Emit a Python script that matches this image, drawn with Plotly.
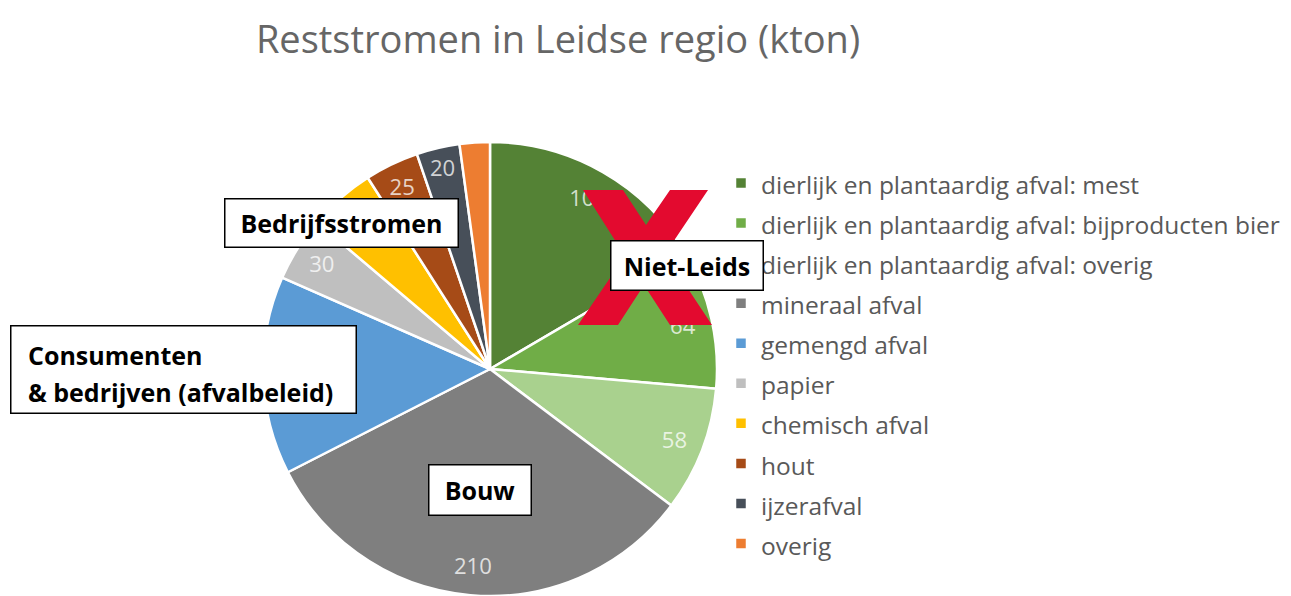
import plotly.graph_objects as go

# ---- data ----
categories = [
    "dierlijk en plantaardig afval: mest",
    "dierlijk en plantaardig afval: bijproducten bier",
    "dierlijk en plantaardig afval: overig",
    "mineraal afval",
    "gemengd afval",
    "papier",
    "chemisch afval",
    "hout",
    "ijzerafval",
    "overig",
]
values = [108, 64, 58, 210, 92, 30, 31, 25, 20, 14]
colors = ["#548235", "#70AD47", "#A9D18E", "#7F7F7F", "#5B9BD5",
          "#BFBFBF", "#FFC000", "#A64B17", "#474F59", "#ED7D31"]
# labels hidden where the reference covers them or shows none
text_pos = ["inside", "inside", "inside", "inside", "none",
            "inside", "none", "inside", "inside", "none"]

# page body has an 8px margin; the figure fills the rest of the window
OX, OY = 8, 8
W, H = 1291 - OX, 596 - OY


def px(x):
    return (x - OX) / W


def py(y):
    return 1 - (y - OY) / H


pie_domain = dict(x=[px(263), px(717)], y=[0, py(142)])

fig = go.Figure()
# main pie (colours + legend)
fig.add_trace(go.Pie(
    labels=[f"<span style='font-size:24.5px'>{c}</span>" for c in categories],
    values=values,
    sort=False,
    direction="clockwise",
    rotation=0,
    marker=dict(colors=colors, line=dict(color="white", width=2.5)),
    textinfo="none",
    domain=pie_domain,
    hoverinfo="label+value",
))
# transparent ring on top, only to place value labels near the rim
fig.add_trace(go.Pie(
    labels=categories,
    values=values,
    sort=False,
    direction="clockwise",
    rotation=0,
    hole=0.74,
    marker=dict(colors=["rgba(0,0,0,0)"] * len(values), line=dict(width=0)),
    texttemplate="%{value}",
    textposition=text_pos,
    insidetextorientation="horizontal",
    textfont=dict(family="Open Sans", size=23, color="rgba(255,255,255,0.75)"),
    domain=pie_domain,
    showlegend=False,
    hoverinfo="skip",
))

# red X (decoration)
xpts = [(583, 190), (623, 190), (646, 225), (670, 190), (708, 190), (665, 254),
        (712, 325), (670, 325), (644, 285), (618, 325), (578, 325), (625, 256)]
path = "M " + " L ".join(f"{px(x):.5f},{py(y):.5f}" for x, y in xpts) + " Z"

shapes = [dict(type="path", path=path, xref="paper", yref="paper",
               fillcolor="#E30A2F", line=dict(width=0), layer="above")]

box_font = dict(family="Open Sans", size=25, color="black", weight="bold")


def box(text, x0, y0, x1, y1, align="center"):
    bw = 1.5
    return dict(text=text, xref="paper", yref="paper",
                x=px((x0 + x1) / 2), y=py((y0 + y1) / 2),
                xanchor="center", yanchor="middle", showarrow=False,
                width=(x1 - x0) - 2 * bw, height=(y1 - y0) - 2 * bw,
                borderpad=0, borderwidth=bw, bordercolor="black",
                bgcolor="white", font=box_font, align=align, valign="middle")


annotations = [
    box("Bedrijfsstromen", 224, 198, 459, 248),
    box("Niet-Leids", 610, 240, 764, 291),
    box(" ", 10, 325, 357, 414),
    box("Bouw", 428, 464, 532, 516),
    dict(text="Consumenten", xref="paper", yref="paper", x=px(26), y=py(355),
         xanchor="left", yanchor="middle", showarrow=False, font=box_font),
    dict(text="& bedrijven (afvalbeleid)", xref="paper", yref="paper", x=px(26), y=py(392),
         xanchor="left", yanchor="middle", showarrow=False, font=box_font),
]

fig.update_layout(
    width=W, height=H,
    margin=dict(l=0, r=0, t=0, b=0),
    paper_bgcolor="white", plot_bgcolor="white",
    title=dict(text="Reststromen in Leidse regio (kton)", x=px(558), y=py(40),
               xanchor="center", yanchor="middle",
               font=dict(family="Open Sans", size=38, color="#666666")),
    legend=dict(x=px(721), y=py(158), xanchor="left", yanchor="top",
                font=dict(family="Open Sans", size=28.5, color="#595959"),
                bgcolor="rgba(0,0,0,0)"),
    uniformtext=dict(minsize=20, mode="show"),
    shapes=shapes,
    annotations=annotations,
    showlegend=True,
)

fig.write_html("out.html")
